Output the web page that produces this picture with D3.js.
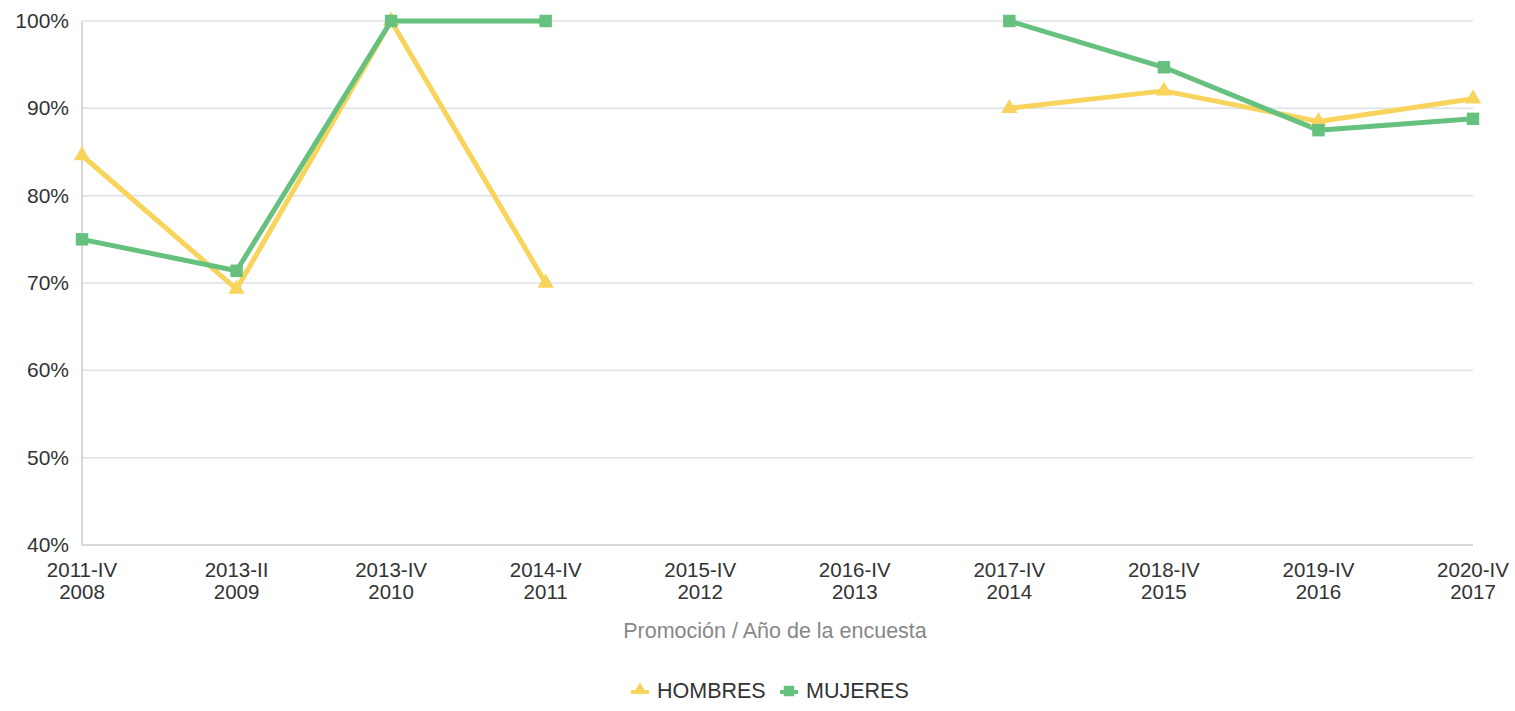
<!DOCTYPE html>
<html><head><meta charset="utf-8">
<script src="https://cdn.jsdelivr.net/npm/d3@7"></script>
<style>body{margin:0;background:#fff;font-family:"Liberation Sans",Arial,sans-serif;}</style>
</head><body><svg id="c" width="1515" height="711"></svg>
<script>
const promociones = ["2011-IV","2013-II","2013-IV","2014-IV","2015-IV","2016-IV","2017-IV","2018-IV","2019-IV","2020-IV"];
const anios = ["2008","2009","2010","2011","2012","2013","2014","2015","2016","2017"];
const hombres = [84.6, 69.3, 100, 70, null, null, 90, 92, 88.5, 91.1];
const mujeres = [75, 71.4, 100, 100, null, null, 100, 94.7, 87.5, 88.8];
const yTicks = [40,50,60,70,80,90,100];
const seriesNames = ["HOMBRES","MUJERES"];
const colors = ["#f9d45c","#66c17f"];

const svg = d3.select("#c");
const L=82, R=1473, T=21, B=545;
const x = d3.scalePoint().domain(anios).range([L,R]).padding(0);
const y = d3.scaleLinear().domain([40,100]).range([B,T]);

svg.append("g").selectAll("line").data(yTicks.slice(1)).join("line")
  .attr("x1",L).attr("x2",R).attr("y1",d=>y(d)).attr("y2",d=>y(d))
  .attr("stroke","#dde1e6").attr("stroke-width",1.5);
svg.append("line").attr("x1",L).attr("x2",L).attr("y1",T).attr("y2",B).attr("stroke","#ccc").attr("stroke-width",1.5);
svg.append("line").attr("x1",L).attr("x2",R).attr("y1",B).attr("y2",B).attr("stroke","#ccc").attr("stroke-width",1.5);

svg.append("g").selectAll("text").data(yTicks).join("text")
  .attr("x",69).attr("y",d=>y(d)+7).attr("text-anchor","end")
  .attr("font-size",21).attr("fill","#333").text(d=>d+"%");

// two-line category labels as separate texts
svg.append("g").selectAll("text").data(anios).join("text")
  .attr("x",d=>x(d)).attr("y",577).attr("text-anchor","middle").attr("font-size",20.5).attr("fill","#333")
  .text((d,i)=>promociones[i]);
svg.append("g").selectAll("text").data(anios).join("text")
  .attr("x",d=>x(d)).attr("y",599).attr("text-anchor","middle").attr("font-size",20.5).attr("fill","#333")
  .text(d=>d);

svg.append("text").attr("x",775).attr("y",638).attr("text-anchor","middle")
  .attr("font-size",21.5).attr("fill","#888").text("Promoción / Año de la encuesta");

const line = d3.line().defined(d=>d.v!==null).x(d=>x(d.k)).y(d=>y(d.v));
const data = [hombres, mujeres].map(arr=>arr.map((v,i)=>({k:anios[i],v})));
const tri = d3.symbol().type(d3.symbolTriangle).size(115);
const sq = d3.symbol().type(d3.symbolSquare).size(155);

data.forEach((s,si)=>{
  svg.append("path").attr("d",line(s)).attr("fill","none").attr("stroke",colors[si]).attr("stroke-width",5).attr("stroke-linejoin","round");
});
data.forEach((s,si)=>{
  svg.append("g").selectAll("path").data(s.filter(d=>d.v!==null)).join("path")
    .attr("transform",d=>`translate(${x(d.k)},${y(d.v)})`)
    .attr("d", si===0?tri():sq()).attr("fill",colors[si]);
});

const leg = [{n:seriesNames[0],c:colors[0],t:0,x:640},{n:seriesNames[1],c:colors[1],t:1,x:789}];
leg.forEach(l=>{
  svg.append("line").attr("x1",l.x-9).attr("x2",l.x+9).attr("y1",692).attr("y2",692).attr("stroke",l.c).attr("stroke-width",4);
  svg.append("path").attr("transform",`translate(${l.x},${l.t===0?690:691})`).attr("d",l.t===0?d3.symbol().type(d3.symbolTriangle).size(80)():d3.symbol().type(d3.symbolSquare).size(110)()).attr("fill",l.c);
  svg.append("text").attr("x",l.x+17).attr("y",698).attr("font-size",21.5).attr("fill","#333").text(l.n);
});
</script></body></html>
